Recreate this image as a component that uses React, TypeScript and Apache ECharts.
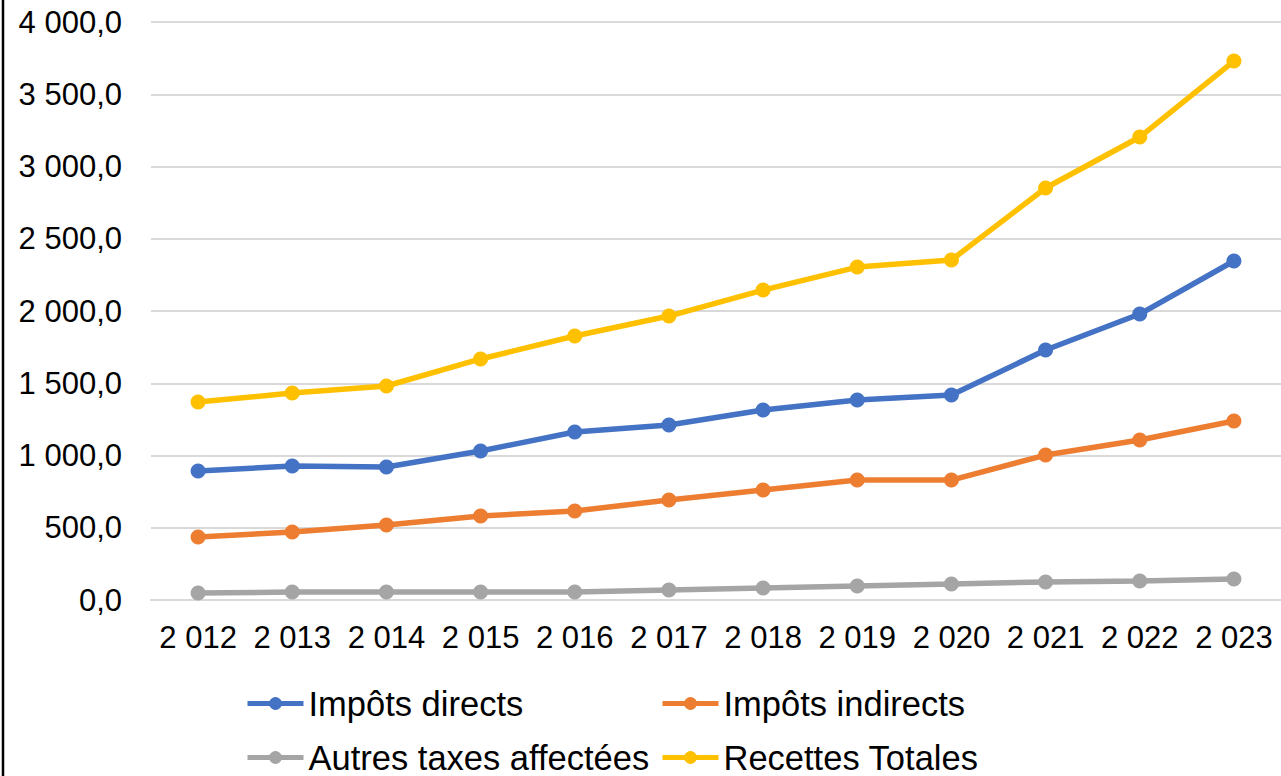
import React, { useEffect, useRef } from "react";
import * as echarts from "echarts";

const years = ["2 012", "2 013", "2 014", "2 015", "2 016", "2 017", "2 018", "2 019", "2 020", "2 021", "2 022", "2 023"];
const impotsDirects = [893, 927, 920, 1031, 1163, 1211, 1315, 1384, 1419, 1730, 1979, 2346];
const impotsIndirects = [436, 471, 519, 581, 616, 692, 761, 830, 830, 1003, 1107, 1239];
const autresTaxes = [48, 55, 55, 55, 55, 69, 83, 97, 110, 125, 131, 145];
const recettesTotales = [1370, 1432, 1481, 1668, 1827, 1965, 2145, 2304, 2353, 2851, 3204, 3730];

const seriesNames = ["Impôts directs", "Impôts indirects", "Autres taxes affectées", "Recettes Totales"];
const seriesColors = ["#4472C4", "#ED7D31", "#A5A5A5", "#FFC000"];
const seriesData = [impotsDirects, impotsIndirects, autresTaxes, recettesTotales];

const FONT = "'Liberation Sans', Arial, sans-serif";

function fmt(v: number): string {
  const s = v.toFixed(1);
  const [intPart, dec] = s.split(".");
  const withSep = intPart.replace(/\B(?=(\d{3})+(?!\d))/g, " ");
  return withSep + "," + dec;
}

export default function App() {
  const ref = useRef<HTMLDivElement>(null);
  useEffect(() => {
    if (!ref.current) return;
    const chart = echarts.init(ref.current, undefined, { renderer: "svg" });
    const legendPos = [
      { left: 245, top: 686 },
      { left: 660, top: 686 },
      { left: 245, top: 740 },
      { left: 660, top: 740 },
    ];
    chart.setOption({
      animation: false,
      backgroundColor: "#ffffff",
      grid: { left: 151, right: 0, top: 22, bottom: 176, containLabel: false },
      legend: seriesNames.map((n, i) => ({
        data: [n],
        left: legendPos[i].left,
        top: legendPos[i].top,
        itemWidth: 56,
        itemHeight: 16,
        padding: 0,
        lineStyle: { width: 5 },
        textStyle: { fontSize: 34.5, lineHeight: 34, fontFamily: FONT, color: "#000" },
      })),
      xAxis: {
        type: "category",
        data: years,
        boundaryGap: true,
        axisLine: { show: true, lineStyle: { color: "#D9D9D9", width: 2 } },
        axisTick: { show: false },
        axisLabel: { interval: 0, fontSize: 31, fontFamily: FONT, color: "#000", margin: 22 },
      },
      yAxis: {
        type: "value",
        min: 0,
        max: 4000,
        interval: 500,
        axisLine: { show: false },
        axisTick: { show: false },
        splitLine: { lineStyle: { color: "#D9D9D9", width: 2 } },
        axisLabel: {
          fontSize: 31,
          fontFamily: FONT,
          color: "#000",
          margin: 29,
          formatter: (v: number) => fmt(v),
        },
      },
      series: seriesNames.map((n, i) => ({
        name: n,
        type: "line",
        data: seriesData[i],
        symbol: "circle",
        symbolSize: 15,
        lineStyle: { width: 5.5, color: seriesColors[i] },
        itemStyle: { color: seriesColors[i] },
        z: 2 + i,
      })),
      graphic: [
        {
          type: "line",
          shape: { x1: 3, y1: 0, x2: 3, y2: 776 },
          style: { stroke: "#000", lineWidth: 2.5 },
        },
      ],
    });
    return () => chart.dispose();
  }, []);
  return (
    <div
      ref={ref}
      style={{ position: "fixed", left: 0, top: 0, width: 1281, height: 776 }}
    />
  );
}
